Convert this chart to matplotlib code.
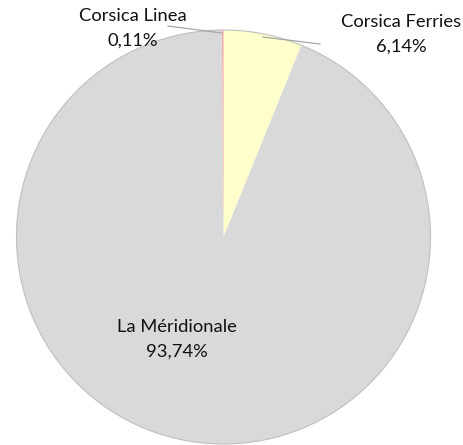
import matplotlib.pyplot as plt

# parts of traffic, in percent
labels = ['Corsica Ferries', 'La Méridionale', 'Corsica Linea']
shares = [6.14, 93.74, 0.11]
pct_text = ['6,14%', '93,74%', '0,11%']
colors = ['#ffffcc', '#d9d9d9', '#f4a0a0']

plt.rcParams['font.family'] = ['Lato', 'DejaVu Sans']

fig = plt.figure(figsize=(4.64, 4.45), dpi=100)
ax = fig.add_axes([0, 0, 1, 1])

wedges, _ = ax.pie(shares, colors=colors, startangle=90, counterclock=False,
                   center=(223.5, 208), radius=207,
                   wedgeprops=dict(linewidth=0.6, edgecolor='none'))
# pie() resets limits, so set them afterwards
ax.set_xlim(0, 464)
ax.set_ylim(0, 445)
ax.set_aspect('equal')
ax.axis('off')

# thin darker rim like the original
circ = plt.Circle((223.5, 208), 207, fill=False, edgecolor='#bfbfbf', lw=0.8)
ax.add_patch(circ)

# labels (x, y in pixel coords from the top)
pos = {'Corsica Ferries': (401, 22), 'La Méridionale': (177, 327), 'Corsica Linea': (133, 16)}
for lab, pt in zip(labels, pct_text):
    x, y = pos[lab]
    ax.text(x, 445 - y, lab, ha='center', va='center', fontsize=13.2, color='#111111')
    ax.text(x, 445 - y - 25, pt, ha='center', va='center', fontsize=13.2, color='#111111')

# leader lines
ax.plot([168, 222], [445 - 26, 445 - 33], color='#a6a6a6', lw=0.9)
ax.plot([263, 320], [445 - 37, 445 - 44], color='#a6a6a6', lw=0.9)

fig.savefig('out.png', dpi=100)
